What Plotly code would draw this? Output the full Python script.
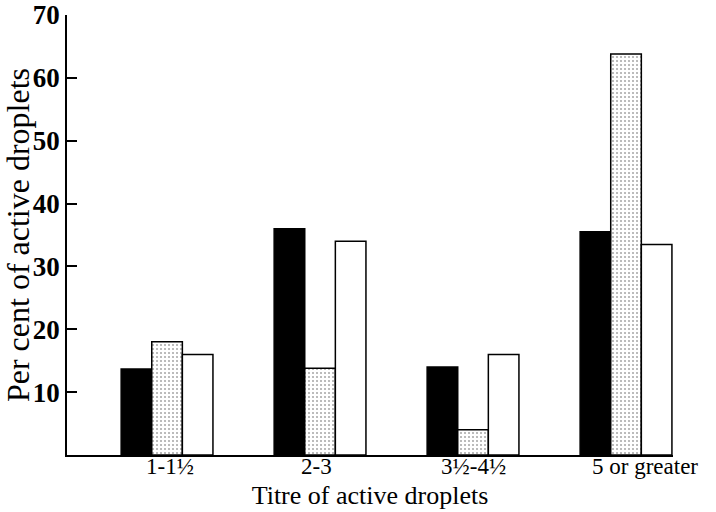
import plotly.graph_objects as go

categories = ["1-1½", "2-3", "3½-4½", "5 or greater"]
series_black = [13.7, 36.0, 14.0, 35.5]
series_dotted = [18.0, 13.8, 4.0, 63.8]
series_white = [16.0, 34.0, 16.0, 33.5]
y_ticks = [10, 20, 30, 40, 50, 60, 70]
label_shift = [3, -4, 0, 19]

serif = "Liberation Serif, Times New Roman, serif"

fig = go.Figure()
line = dict(color="black", width=1.5)
fig.add_trace(go.Bar(x=categories, y=series_black, marker=dict(color="black", line=line)))
fig.add_trace(go.Bar(x=categories, y=series_dotted,
                     marker=dict(color="white", line=line,
                                 pattern=dict(shape=".", fgcolor="#555", bgcolor="white",
                                              size=4, solidity=0.22))))
fig.add_trace(go.Bar(x=categories, y=series_white, marker=dict(color="white", line=line)))

for cat, sh in zip(categories, label_shift):
    fig.add_annotation(x=cat, y=0, yref="paper", yanchor="top", xanchor="center",
                       text=cat, showarrow=False, xshift=sh, yshift=2, borderpad=0,
                       font=dict(size=23, family=serif, color="black"))

fig.update_layout(
    width=716, height=512,
    margin=dict(l=67, r=43, t=15, b=57),
    plot_bgcolor="white", paper_bgcolor="white",
    barmode="group", bargap=0.4, bargroupgap=0,
    showlegend=False,
    font=dict(family=serif, color="black"),
)
fig.update_xaxes(
    range=[-0.654, 3.307], showline=True, linecolor="black", linewidth=1.5,
    ticks="", showgrid=False, zeroline=False, automargin=False,
    showticklabels=False,
    title=dict(text="Titre of active droplets", font=dict(size=26), standoff=30),
)
fig.update_yaxes(
    range=[0, 70], tickvals=y_ticks, showline=True, linecolor="black", linewidth=1.5,
    ticks="inside", ticklen=10, tickwidth=1.5, tickcolor="black",
    showgrid=False, zeroline=False, automargin=False,
    tickfont=dict(size=27, family=serif, weight="bold"), ticklabelstandoff=0,
    title=dict(text="Per cent of active droplets", font=dict(size=32), standoff=0),
)

fig.write_html("out.html", config={"displayModeBar": False},
               post_script="document.body.style.margin='0';document.body.style.overflow='hidden';")
